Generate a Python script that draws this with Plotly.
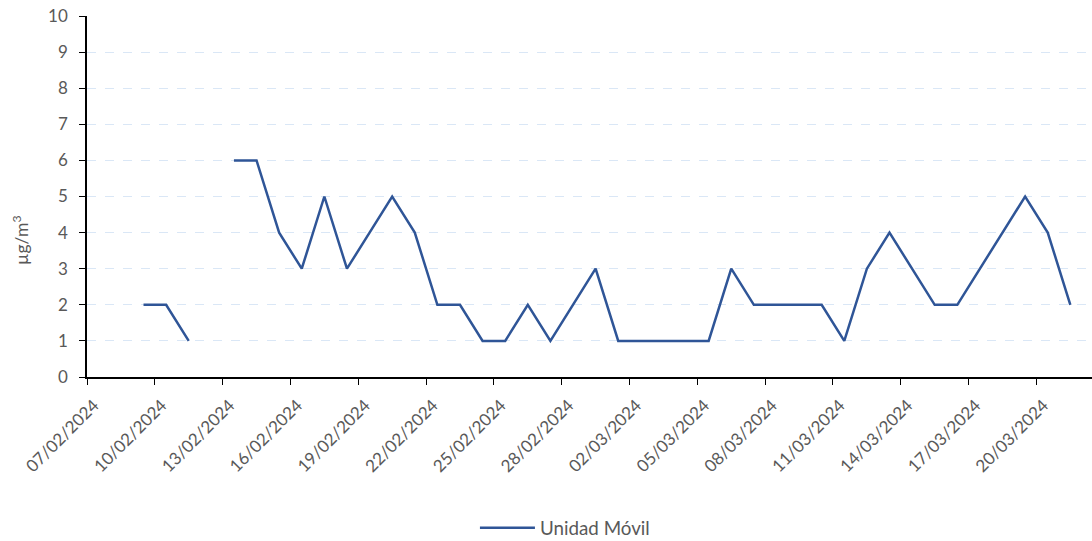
import plotly.graph_objects as go
import pandas as pd

start_date = "2024-02-09"
values = [2, 2, 1, None, 6, 6, 4, 3, 5, 3, 4, 5, 4, 2, 2, 1, 1, 2, 1, 2, 3,
          1, 1, 1, 1, 1, 3, 2, 2, 2, 2, 1, 3, 4, 3, 2, 2, 3, 4, 5, 4, 2]
dates = pd.date_range(start_date, periods=len(values), freq="D") + pd.Timedelta(hours=12)
tick_dates = pd.date_range("2024-02-07", "2024-03-20", freq="3D")
tick_labels = [d.strftime("%d/%m/%Y") for d in tick_dates]
y_title = "µg/m<sup>3</sup>"
series_name = "Unidad Móvil"

fig = go.Figure()
fig.add_trace(go.Scatter(
    x=dates, y=values, mode="lines", name=series_name,
    line=dict(color="#2F5597", width=2.5), connectgaps=False,
))

font_color = "#595959"
fig.update_layout(
    width=1092, height=541,
    margin=dict(l=87, r=0, t=16, b=164),
    paper_bgcolor="white", plot_bgcolor="white",
    font=dict(family="Lato, sans-serif", size=16, color=font_color),
    showlegend=True,
    legend=dict(orientation="h", x=0.386, xanchor="left",
                yref="container", y=0.024, yanchor="middle",
                itemwidth=55, font=dict(size=18.8, color=font_color)),
    xaxis=dict(
        range=["2024-02-07", "2024-03-22 11:00"],
        tickvals=tick_dates, ticktext=tick_labels, tickangle=-45,
        showgrid=False, showline=True, linecolor="black", linewidth=1.5,
        ticks="outside", ticklen=6, tickcolor="black", zeroline=False,
        tickfont=dict(size=17, color=font_color), automargin=False,
        ticklabelstandoff=4, ticklabelshift=7,
    ),
    yaxis=dict(
        range=[0, 10], dtick=1, showgrid=True, gridcolor="#dae7f6",
        griddash="dash", gridwidth=1, showline=True, linecolor="black", linewidth=1.5,
        ticks="outside", ticklen=6, tickcolor="black", zeroline=False,
        tickfont=dict(size=17, color=font_color), automargin=False,
        ticklabelstandoff=8,
    ),
    annotations=[dict(
        text=y_title, textangle=-90, xref="paper", yref="paper",
        x=0, y=0.377, xshift=-66, xanchor="center", yanchor="middle",
        showarrow=False, font=dict(size=17.5, color=font_color),
    )],
)
fig.write_html("out.html", config={"displayModeBar": False},
               post_script="document.body.style.margin='0';")
